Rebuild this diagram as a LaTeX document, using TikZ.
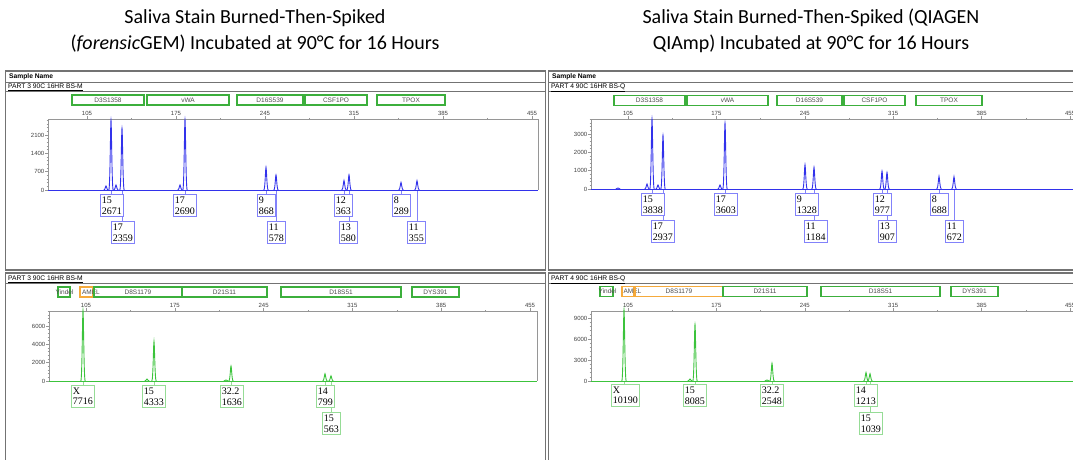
\documentclass[tikz,border=0pt]{standalone}
\usepackage{fontspec}
\setmainfont{Liberation Serif}
\setsansfont{Liberation Sans}
\newfontfamily\headfont{Carlito}
\usepackage{tikz}
\usetikzlibrary{positioning}
\pgfdeclarelayer{links}
\pgfsetlayers{links,main}
\definecolor{traceblue}{RGB}{50,50,235}
\definecolor{tagblue}{RGB}{130,130,250}
\definecolor{tracegreen}{RGB}{60,195,60}
\definecolor{taggreen}{RGB}{150,220,150}
\definecolor{locusgreen}{RGB}{60,175,60}
\definecolor{locusorange}{RGB}{245,170,60}
\definecolor{framegray}{RGB}{115,115,115}
\definecolor{axisgray}{RGB}{150,150,150}
\tikzstyle{title} = [align=center, font=\headfont\fontsize{20}{26}\selectfont, inner sep=0pt]
\tikzstyle{frame} = [draw=framegray, line width=1.2pt]
\tikzstyle{axisline} = [draw=axisgray, line width=0.6pt]
\tikzstyle{scalelbl} = [font=\sffamily\fontsize{6}{6}\selectfont, text=black!75, inner sep=0.5pt]
\tikzstyle{rowlbl} = [font=\sffamily\fontsize{6.7}{6.7}\selectfont, inner sep=0pt, anchor=west]
\tikzstyle{locus} = [rectangle, draw=locusgreen, line width=1.1pt, minimum height=10, inner sep=0pt, font=\sffamily\fontsize{6.5}{6.5}\selectfont, text=black!70]
\tikzstyle{locustext} = [inner sep=0pt, anchor=west, font=\sffamily\fontsize{6.5}{6.5}\selectfont, text=black!70]
\tikzstyle{bluetrace} = [traceblue, line width=0.9pt]
\tikzstyle{bluetag} = [rectangle, draw=tagblue, fill=white, line width=0.8pt, align=left, anchor=north west, inner xsep=1.5pt, inner ysep=2.5pt, font=\fontsize{10}{10.5}\selectfont]
\tikzstyle{bluelink} = [tagblue, line width=0.8pt]
\tikzstyle{greentrace} = [tracegreen, line width=0.9pt]
\tikzstyle{greentag} = [rectangle, draw=taggreen, fill=white, line width=0.8pt, align=left, anchor=north west, inner xsep=1.5pt, inner ysep=2.5pt, font=\fontsize{10}{10.5}\selectfont]
\tikzstyle{greenlink} = [taggreen, line width=0.8pt]
% one peak: x, baseline, height
\newcommand{\spike}[4][bluetrace]{\draw[#1] ({#2-2.2},#3) .. controls ({#2-0.9},#3) and ({#2-0.5},{#3-#4}) .. (#2,{#3-#4}) .. controls ({#2+0.5},{#3-#4}) and ({#2+0.9},#3) .. ({#2+2.2},#3);}
% called peak with its label box
\newcommand{\allele}[9]{%
  \spike[#9trace]{#2}{#3}{#4}
  \coordinate (#1) at (#2,#3);
  \node[#9tag] (#1tag) at (#5,#6) {#7\\#8};
  \begin{pgfonlayer}{links}
    \draw[#9link] (#1) -- (#1 |- #1tag.north);
  \end{pgfonlayer}
}
% size scale on top of a plot
\newcommand{\bpaxis}[3]{%
  \foreach \t [count=\i from 0] in {105,175,245,315,385,455} {
    \draw[axisline] ({#1+\i*#2},#3) -- ++(0,-3);
    \node[scalelbl, above] at ({#1+\i*#2},{#3-3}) {\t};
  }
  \foreach \i in {0,...,4} \draw[axisline] ({#1+(\i+0.5)*#2},#3) -- ++(0,-1.5);
}
% rfu scale on the left of a plot
\newcommand{\rfuaxis}[5]{%
  \foreach \k in {0,...,#4} \draw[axisline] ({#1-1.5},{#2-\k*#3}) -- (#1,{#2-\k*#3});
  \foreach \v [count=\i from 0] in {#5} {
    \draw[axisline] ({#1-3},{#2-5*\i*#3}) -- (#1,{#2-5*\i*#3});
    \node[scalelbl, anchor=east] at ({#1-3},{#2-5*\i*#3}) {\v};
  }
}

\begin{document}
\begin{tikzpicture}[x=1pt, y=-1pt]
\useasboundingbox (0,0) rectangle (1073,460);
\clip (0,0) rectangle (1073,460);

\node[title] (titleL) at (255,31) {Saliva Stain Burned-Then-Spiked\\(\textit{forensic}GEM) Incubated at 90°C for 16 Hours};
\node[title] (titleR) at (811,31) {Saliva Stain Burned-Then-Spiked (QIAGEN\\QIAmp) Incubated at 90°C for 16 Hours};

% left, blue dye
\draw[frame] (5.5,71) rectangle (545.5,270);
\draw[frame] (5.5,82.5) -- (545.5,82.5);
\draw[frame] (5.5,91.5) -- (545.5,91.5);
\node[rowlbl, font=\sffamily\bfseries\fontsize{6.7}{6.7}\selectfont] (sampleL) at (9,77) {Sample Name};
\node[rowlbl] (partL) at (8,87.5) {\underline{PART 3 90C 16HR BS-M}};
\node[locus, minimum width=72] (d3L) at (108,100) {D3S1358};
\node[locus, minimum width=82] (vwaL) at (188,100) {vWA};
\node[locus, minimum width=66] (d16L) at (270,100) {D16S539};
\node[locus, minimum width=62] (csfL) at (336,100) {CSF1PO};
\node[locus, minimum width=68] (tpoxL) at (411,100) {TPOX};
\draw[axisline] (48,190) -- (48,119) -- (538,119) -- (538,190);
\draw[bluetrace, line width=0.6pt] (48,190) -- (538,190);
\bpaxis{87}{89}{119}
\rfuaxis{48}{190}{3.66}{19}{0,700,1400,2100}
\spike{106}{190}{4}
\spike{116}{190}{5}
\spike{180}{190}{5}
\allele{tl1}{111}{190}{69.8}{100}{194}{15}{2671}{blue}
\allele{tl2}{122}{190}{61.7}{111}{221}{17}{2359}{blue}
\allele{tl3}{185}{190}{70.3}{173}{194}{17}{2690}{blue}
\allele{tl4}{266}{190}{22.7}{257}{194}{9}{868}{blue}
\allele{tl5}{276}{190}{15.1}{267}{221}{11}{578}{blue}
\allele{tl6}{344}{190}{9.5}{334}{194}{12}{363}{blue}
\allele{tl7}{349}{190}{15.2}{339}{221}{13}{580}{blue}
\allele{tl8}{401}{190}{7.6}{392}{194}{8}{289}{blue}
\allele{tl9}{417}{190}{9.3}{407}{221}{11}{355}{blue}

% left, green dye
\draw[frame] (5.5,273) rectangle (545.5,480);
\draw[frame] (5.5,283.5) -- (545.5,283.5);
\node[rowlbl] (partLB) at (8,279.5) {\underline{PART 3 90C 16HR BS-M}};
\node[locus, minimum width=12] (yinL) at (64,292) {};
\node[locustext] at ([xshift=-2pt]yinL.west) {Yindel};
\node[locus, draw=locusorange, minimum width=13] (amelL) at (86.5,292) {};
\node[locustext] at ([xshift=2.5pt]amelL.west) {AMEL};
\node[locus, minimum width=88] (d8L) at (138,292) {D8S1179};
\node[locus, minimum width=85] (d21L) at (224.5,292) {D21S11};
\node[locus, minimum width=120] (d18L) at (341,292) {D18S51};
\node[locus, minimum width=47] (dysL) at (435.5,292) {DYS391};
\draw[axisline] (49,381) -- (49,311) -- (537,311) -- (537,381);
\draw[greentrace, line width=0.6pt] (49,381) -- (537,381);
\bpaxis{86}{88.8}{311}
\rfuaxis{49}{381}{3.66}{19}{0,2000,4000,6000}
\spike[greentrace]{147}{381}{2}
\spike[greentrace]{226}{381}{1}
\allele{bl1}{83}{381}{70.6}{71}{385}{X}{7716}{green}
\allele{bl2}{154}{381}{39.6}{142}{385}{15}{4333}{green}
\allele{bl3}{231}{381}{15}{220}{385}{32.2}{1636}{green}
\allele{bl4}{325}{381}{7.3}{316}{385}{14}{799}{green}
\allele{bl5}{331}{381}{5.2}{322}{412}{15}{563}{green}

% right, blue dye
\draw[frame] (548.5,71) rectangle (1090,270);
\draw[frame] (548.5,82.5) -- (1090,82.5);
\draw[frame] (548.5,91.5) -- (1090,91.5);
\node[rowlbl, font=\sffamily\bfseries\fontsize{6.7}{6.7}\selectfont] (sampleR) at (552,77) {Sample Name};
\node[rowlbl] (partR) at (551,87.5) {\underline{PART 4 90C 16HR BS-Q}};
\node[locus, minimum width=71] (d3R) at (649.5,100.5) {D3S1358};
\node[locus, minimum width=81] (vwaR) at (727.5,100.5) {vWA};
\node[locus, minimum width=65] (d16R) at (809.5,100.5) {D16S539};
\node[locus, minimum width=61] (csfR) at (874.5,100.5) {CSF1PO};
\node[locus, minimum width=66] (tpoxR) at (949,100.5) {TPOX};
\draw[axisline] (591,189) -- (591,119) -- (1090,119);
\draw[bluetrace, line width=0.6pt] (591,189) -- (1090,189);
\bpaxis{628}{88.4}{119}
\rfuaxis{591}{189}{3.66}{19}{0,1000,2000,3000}
\spike{618}{189}{1}
\spike{647}{189}{5}
\spike{658}{189}{4}
\spike{720}{189}{4}
\allele{tr1}{652}{189}{70.2}{641}{193}{15}{3838}{blue}
\allele{tr2}{663}{189}{53.7}{651}{220}{17}{2937}{blue}
\allele{tr3}{725}{189}{65.9}{714}{193}{17}{3603}{blue}
\allele{tr4}{805}{189}{24.3}{795}{193}{9}{1328}{blue}
\allele{tr5}{814}{189}{21.7}{804}{220}{11}{1184}{blue}
\allele{tr6}{882}{189}{17.9}{873}{193}{12}{977}{blue}
\allele{tr7}{887}{189}{16.6}{878}{220}{13}{907}{blue}
\allele{tr8}{939}{189}{12.6}{930}{193}{8}{688}{blue}
\allele{tr9}{954}{189}{12.3}{945}{220}{11}{672}{blue}

% right, green dye
\draw[frame] (548.5,273) rectangle (1090,480);
\draw[frame] (548.5,283.5) -- (1090,283.5);
\node[rowlbl] (partRB) at (551,279.5) {\underline{PART 4 90C 16HR BS-Q}};
\node[locus, minimum width=13] (yinR) at (606.5,291.5) {};
\node[locustext] at ([xshift=-1pt]yinR.west) {Yindel};
\node[locus, draw=locusorange, minimum width=12] (amelR) at (628,291.5) {};
\node[locustext] at ([xshift=2pt]amelR.west) {AMEL};
\node[locus, draw=locusorange, minimum width=88] (d8R) at (679,291.5) {D8S1179};
\node[locus, minimum width=84] (d21R) at (765,291.5) {D21S11};
\node[locus, minimum width=119] (d18R) at (880.5,291.5) {D18S51};
\node[locus, minimum width=47] (dysR) at (974.5,291.5) {DYS391};
\draw[axisline] (591,381) -- (591,311) -- (1090,311);
\draw[greentrace, line width=0.6pt] (591,381) -- (1090,381);
\bpaxis{628}{88.4}{311}
\rfuaxis{591}{381}{4.2}{16}{0,3000,6000,9000}
\spike[greentrace]{690}{381}{2}
\spike[greentrace]{767}{381}{1}
\allele{br1}{624}{381}{71.3}{611}{384}{X}{10190}{green}
\allele{br2}{695}{381}{56.6}{683}{384}{15}{8085}{green}
\allele{br3}{772}{381}{17.8}{760}{384}{32.2}{2548}{green}
\allele{br4}{866}{381}{8.5}{854}{384}{14}{1213}{green}
\allele{br5}{870}{381}{7.3}{859}{412}{15}{1039}{green}
\end{tikzpicture}
\end{document}
